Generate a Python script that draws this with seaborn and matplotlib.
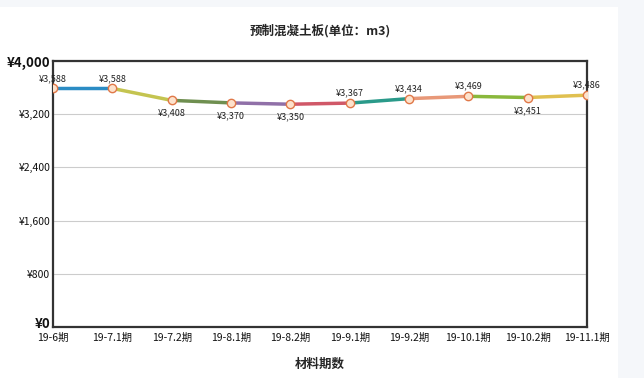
import matplotlib
matplotlib.use("Agg")
import matplotlib.pyplot as plt
import matplotlib.transforms as mtransforms
import seaborn as sns
import pandas as pd
from matplotlib.patches import Rectangle

categories = ["19-6期", "19-7.1期", "19-7.2期", "19-8.1期", "19-8.2期",
              "19-9.1期", "19-9.2期", "19-10.1期", "19-10.2期", "19-11.1期"]
prices = [3588, 3588, 3408, 3370, 3350, 3367, 3434, 3469, 3451, 3486]
label_below = [False, False, True, True, True, False, False, False, True, False]
y_ticks = [0, 800, 1600, 2400, 3200, 4000]
seg_colors = ["#2b8cc4", "#c4c450", "#6f8f50", "#9070a8", "#d05868",
              "#2a9a8a", "#e89878", "#8ab83c", "#e0c050"]

sns.set_theme(style="white")
plt.rcParams['font.family'] = ['Noto Sans CJK SC', 'DejaVu Sans']

fig = plt.figure(figsize=(6.44, 3.78), dpi=100)
fig.patch.set_facecolor("white")
fig.patches.append(Rectangle((618/644, 0), 1, 1, transform=fig.transFigure,
                             facecolor="#f5f7fa", edgecolor="none", zorder=0))
fig.patches.append(Rectangle((0, 1 - 7/378), 1, 7/378, transform=fig.transFigure,
                             facecolor="#f5f7fa", edgecolor="none", zorder=0))
ax = fig.add_axes([53/644, 1 - 327/378, (587 - 53)/644, (327 - 61)/378])

rows = []
for i in range(len(prices) - 1):
    rows.append({"x": i, "y": prices[i], "seg": i})
    rows.append({"x": i + 1, "y": prices[i + 1], "seg": i})
df = pd.DataFrame(rows)
sns.lineplot(data=df, x="x", y="y", hue="seg", palette=seg_colors, ax=ax,
             linewidth=2.5, legend=False, estimator=None, sort=False)

pts = pd.DataFrame({"x": range(len(prices)), "y": prices})
sns.scatterplot(data=pts, x="x", y="y", ax=ax, s=36, color="#fde2cc",
                edgecolor="#e07848", linewidth=1.0, zorder=5, legend=False)

for i, v in enumerate(prices):
    txt = "¥" + f"{v:,}"
    if label_below[i]:
        ax.annotate(txt, (i, v), xytext=(0, -6), textcoords="offset points",
                    ha="center", va="top", fontsize=6.5, color="#222222")
    else:
        ax.annotate(txt, (i, v), xytext=(0, 4), textcoords="offset points",
                    ha="center", va="bottom", fontsize=6.5, color="#222222")

ax.set_xlim(0, len(prices) - 1)
ax.set_ylim(0, 4000)
ax.set_xticks(range(len(categories)))
ax.set_xticklabels(categories, fontsize=7.5)
ax.set_yticks(y_ticks)
ylabels = ["¥" + f"{t:,}" for t in y_ticks]
ax.set_yticklabels(ylabels, fontsize=7.5)
ax.tick_params(axis="y", length=0, pad=2, colors="#111111")
ax.tick_params(axis="x", length=0, pad=4, colors="#111111")
ylbls = ax.get_yticklabels()
for lbl in [ylbls[0], ylbls[-1]]:
    lbl.set_fontweight("bold")
    lbl.set_fontsize(9.5)
ylbls[0].set_transform(ylbls[0].get_transform() +
                       mtransforms.ScaledTranslation(0, 3/72, fig.dpi_scale_trans))
ax.yaxis.grid(True, color="#cccccc", linewidth=0.8)
ax.xaxis.grid(False)
for s in ax.spines.values():
    s.set_color("#333333")
    s.set_linewidth(1.6)
ax.set_xlabel("材料期数", fontsize=9, fontweight="bold", labelpad=11)
ax.set_ylabel("")
fig.text(320/644, 1 - 31/378, "预制混凝土板(单位：m3)", ha="center", va="center",
         fontsize=9, fontweight="bold")

fig.savefig("out.png", dpi=100)
